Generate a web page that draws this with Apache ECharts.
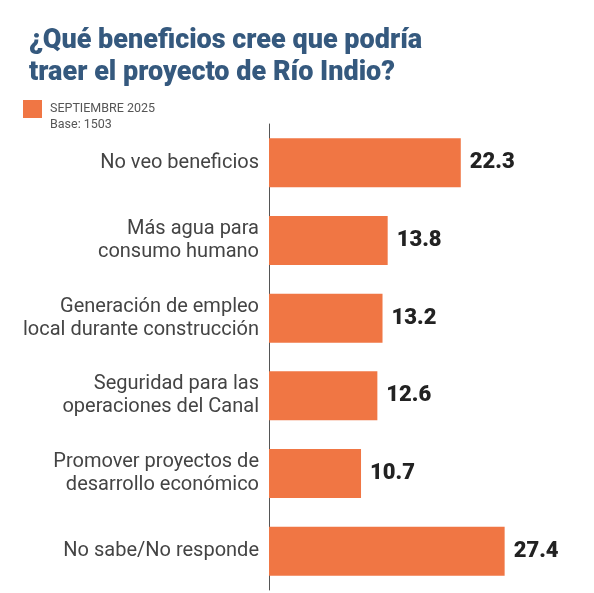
<!DOCTYPE html>
<html>
<head>
<meta charset="utf-8">
<script src="https://cdn.jsdelivr.net/npm/echarts@6/dist/echarts.min.js"></script>
<style>
html,body{margin:0;padding:0;background:#fff;}
#chart{width:594px;height:593px;}
</style>
</head>
<body>
<div id="chart"></div>
<script>
const titleText = '¿Qué beneficios cree que podría\ntraer el proyecto de Río Indio?';
const seriesName = 'SEPTIEMBRE 2025';
const baseText = 'Base: 1503';
const categories = [
  'No veo beneficios',
  'Más agua para\nconsumo humano',
  'Generación de empleo\nlocal durante construcción',
  'Seguridad para las\noperaciones del Canal',
  'Promover proyectos de\ndesarrollo económico',
  'No sabe/No responde'
];
const values = [22.3, 13.8, 13.2, 12.6, 10.7, 27.4];

const chart = echarts.init(document.getElementById('chart'));
chart.setOption({
  backgroundColor: '#fff',
  animation: false,
  title: {
    text: titleText,
    left: 24,
    top: 20,
    textStyle: {
      fontFamily: 'Roboto',
      fontSize: 27,
      fontWeight: 900,
      lineHeight: 32,
      color: '#35597e'
    }
  },
  legend: {
    data: [seriesName],
    left: 18,
    top: 95,
    icon: 'rect',
    itemWidth: 19,
    itemHeight: 18,
    itemGap: 8,
    textStyle: {
      fontFamily: 'Roboto',
      fontSize: 12.5,
      color: '#555',
      padding: [0, 0, 0, 3]
    }
  },
  graphic: [{
    type: 'text',
    left: 50,
    top: 118,
    style: {
      text: baseText,
      fontFamily: 'Roboto',
      fontSize: 12.5,
      fill: '#555'
    }
  }],
  grid: {
    left: 269,
    top: 124,
    right: 67,
    bottom: 3,
    containLabel: false
  },
  xAxis: {
    type: 'value',
    min: 0,
    max: 30,
    show: false
  },
  yAxis: {
    type: 'category',
    data: categories,
    inverse: true,
    axisLine: { show: true, lineStyle: { color: '#555', width: 1 } },
    axisTick: { show: false },
    axisLabel: {
      fontFamily: 'Roboto',
      fontSize: 20,
      lineHeight: 23,
      color: '#444',
      margin: 10,
      align: 'right'
    }
  },
  series: [{
    name: seriesName,
    type: 'bar',
    data: values,
    barWidth: 49,
    itemStyle: { color: '#f07644' },
    label: {
      show: true,
      position: 'right',
      distance: 9,
      fontFamily: 'Roboto',
      fontWeight: 900,
      fontSize: 22,
      color: '#222',
      formatter: p => p.value.toFixed(1)
    }
  }]
});
</script>
</body>
</html>
